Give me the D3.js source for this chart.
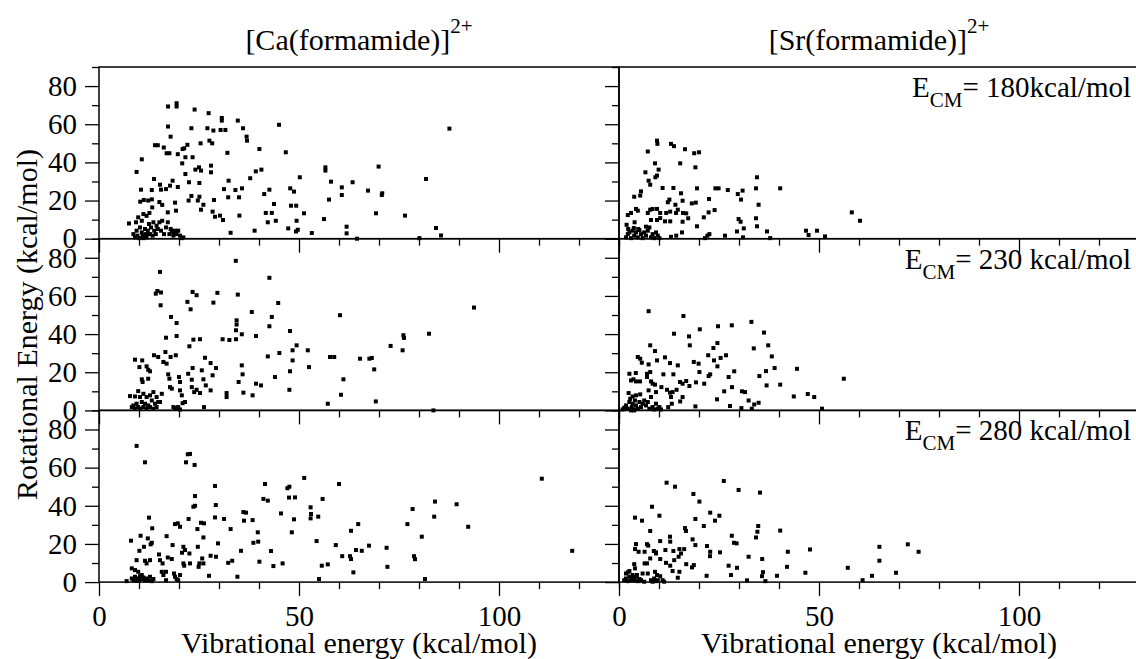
<!DOCTYPE html>
<html>
<head>
<meta charset="utf-8">
<script src="https://cdn.jsdelivr.net/npm/d3@7"></script>
<style>
  body { margin: 0; background: #fff; }
  svg text { font-family: 'Liberation Serif', Tinos, 'Times New Roman', Times, 'DejaVu Serif', serif; }
</style>
</head>
<body>
<div id="chart"></div>
<script>
// tick values
const xMajor = [0, 50, 100];
const xMinor = [10, 20, 30, 40, 60, 70, 80, 90, 110, 120, 130];
const yMajor = [0, 20, 40, 60, 80];
const yMinor = [10, 30, 50, 70, 90];

const columns = ['Ca', 'Sr'];
const energies = ['180kcal/mol', '230 kcal/mol', '280 kcal/mol'];

// [vibrational, rotational] in kcal/mol
const caE180 = [
  [7.5,8],[9.4,35],[10.7,41.6],[10.5,25.7],[10.3,19.4],[11.2,20.3],[11.9,12],[12.3,20],[13.2,20.6],[13.75,31.3],
  [14,49],[14.7,49],[15.1,19.2],[13.2,25.5],[13.3,16.4],[12.6,13.5],[15.25,28.3],[15.5,25.7],[16.2,47.8],[15.8,17.7],
  [16.75,26],[16.9,44.8],[17.25,69.3],[17.25,58.8],[17.6,44.8],[17.9,53.5],[17.2,13.8],[17.75,27.8],[18.4,30.4],[19,18.9],
  [19.25,14.7],[19.4,69.3],[19.4,71],[19.7,44.3],[20.8,39.5],[20.9,47],[21.3,47.4],[21.6,42.7],[21.6,33.9],[19.7,27.1],
  [22.1,49.2],[22.5,29.6],[22.4,20],[23.1,22.4],[23.1,57.9],[23.9,67.7],[23.4,42.7],[24.1,36.2],[25,37.4],[25.1,29.2],
  [25.5,15.2],[24.7,20],[25.1,22],[26.1,17.8],[25.4,50],[25.5,35.7],[27.1,57.9],[27.4,65.8],[28,38.3],[28,34.8],
  [27.6,51.4],[28.3,50],[28.6,56.7],[28.75,20.3],[28.4,14.2],[29,11.5],[30.25,12.1],[30.4,57],[30.7,61.9],[30.7,63.3],
  [31.6,57],[31,9.8],[31.25,26],[32.1,45],[32.4,30.4],[32.3,21.7],[32.9,3.1],[34.1,25.5],[34.7,61.9],[35,21.7],
  [35.1,12.1],[35.75,26.4],[36,57.9],[36.9,53.5],[37,51.4],[37.8,31.7],[38.9,4.2],[39.2,35.3],[40.1,47],[40.6,36.2],
  [41.3,23.4],[41.7,13.5],[42.2,8.6],[42.6,25.7],[43.2,13.5],[43.75,18.2],[44.2,9.4],[45,59.7],[46.7,45.3],[47.3,5.4],
  [47.8,26.4],[48.75,24.7],[48,17.3],[49.3,17.3],[49.4,9.4],[49.25,3.8],[49.7,4.7],[50.2,32.2],[51.25,13.3],[53.2,3],
  [56.25,10.3],[56.6,37.4],[56.6,35.7],[57.5,20.5],[58,29.9],[60.7,22.9],[60.7,26.9],[61.9,6.3],[61.9,2.8],[63.4,29.6],
  [64.5,0],[67.25,25.2],[69.25,13.3],[69.9,37.8],[70.8,23.8],[70.7,22.9],[76.5,12.1],[81.75,31.3],[84.25,5.6],[85.5,1.7],
  [80.1,0.3],[87.6,57.7],
  [8.6,2.4],[9,0.7],[9.4,4.2],[9.6,1.6],[10.1,0.3],[10.25,5.9],[10.7,3.3],[10.9,1.6],[11.1,0.3],[11.5,5.1],
  [11.75,2.4],[11.9,0.7],[12.2,4.2],[12.5,7.7],[12.75,2.4],[13,5.9],[13.4,1.6],[13.6,8.6],[13.8,4.2],[14.2,2.4],
  [14.4,6.8],[14.7,5.1],[15.1,8.6],[15.5,4.2],[15.8,9.4],[16.25,2.4],[16.75,5.9],[17.2,8.6],[17.6,2.4],[17.9,5.1],
  [18.2,4.2],[18.6,3.3],[19,4.2],[19.4,2.4],[19.8,4.2],[20.25,1.6],[20.7,0.3],[21.1,0.7],[18.6,1.6],[9.25,8.6],
  [9.8,11.2],[10.7,9.4],[11.1,12.9]
];

const srE180 = [
  [9.5,51.4],[9.6,49.7],[7.2,45.7],[13,49.7],[13.75,48.5],[16.5,46.9],[18.8,44.8],[20,45.3],[9,39.5],[9.9,36.2],
  [6.6,34.8],[9.5,33.1],[9.1,32.2],[7.4,30.4],[7.8,28.3],[15.3,39.5],[19.1,37.4],[10.9,26.6],[13.6,26.6],[19.5,26.4],
  [24.1,26.4],[24.9,26.4],[27.2,25.5],[29.7,23.4],[30.9,25.2],[34.5,32.2],[34.25,26.4],[34.9,17.8],[30.5,20.5],[40.3,26.4],
  [5.5,24.8],[5.3,22.6],[3.8,22],[12.6,20.5],[12.2,19.1],[15.5,23.8],[15.9,19.9],[14.1,17.8],[18.2,18.5],[19.2,18.9],
  [22.5,20.8],[2.2,12.4],[3,13.5],[4.25,15.6],[4.7,14.7],[7.2,13.5],[7.8,15.2],[8.4,15.6],[9.5,15.6],[10.3,13.5],
  [11.8,13.5],[12.8,14.2],[14.25,13.5],[14.7,15.2],[16,13.5],[16.8,13.3],[22.4,13.8],[23.9,15],[21.2,11.2],[17.3,10.7],
  [15.9,8.9],[19.5,6.5],[29.9,10.3],[30.4,8.9],[31.2,5.4],[34.25,10.7],[34.5,6.5],[37,3.8],[37.8,0.3],[3.9,8.6],
  [1.9,7.3],[8,9.8],[9.5,9.8],[10.3,10.8],[11.5,9.1],[12.8,9.1],[15.75,3.3],[14.3,1.6],[13,1],[22.1,1.6],
  [22.6,2.4],[21.5,0.3],[26.5,1.6],[29.5,3.8],[31,0.7],[46.75,4.2],[47.4,1.9],[49.5,4.2],[51.5,1.2],[58.2,13.8],
  [60.25,9.4],
  [1.75,0.7],[2.2,2.4],[2.6,3.3],[3,0.3],[3.4,4.2],[3.8,1.6],[4.25,3.3],[4.7,0.7],[5.1,4.5],[5.5,2.4],
  [5.9,0.3],[6.3,3.3],[6.75,1.6],[7.2,4.2],[7.6,5.9],[8,0.7],[8.4,2.4],[8.8,0.3],[9.25,3.3],[9.7,1.6],
  [10.1,0.3],[2.3,5.1],[3.7,5.6],[4.8,5.1],[6.75,6.3]
];

const caE230 = [
  [7.75,7.5],[9,7.3],[9,26.6],[10.8,26.2],[10.1,22.7],[10.7,16.3],[10.9,14.9],[9.8,10.1],[11.9,23.1],[12.3,21.3],
  [12.75,20.5],[12.3,16.6],[13.75,28.9],[14.8,28],[14.2,61.2],[14.6,62.6],[15.25,72.6],[15.5,61.8],[15.4,55.1],[16.1,25.4],
  [16.9,24.5],[16.75,38.1],[16.6,30.6],[18,49],[17.9,28],[19.2,28.9],[17.3,18.9],[17.6,16.6],[19.4,45.8],[19.4,39],
  [20,17.5],[20.25,14.9],[20.25,10.5],[20.7,7.9],[20.9,3.8],[21.5,4.4],[22.1,56.9],[22.9,53],[22.6,33.6],[23.4,62.1],
  [24.4,60.4],[23.6,37.1],[23.4,22.2],[22.3,19.2],[23.2,16.1],[23.2,12.2],[23.8,9.6],[24.4,10.8],[25.25,37.3],[26.5,27.6],
  [25.7,21],[26.1,16.3],[25.25,9.1],[26.25,1.7],[26.7,13.1],[27.9,24.8],[28.4,18.4],[27.9,10.5],[28.6,56.5],[29.6,61.6],
  [29.25,22.2],[30.9,37.3],[31.9,9.1],[31.9,7],[32.6,36.9],[34.2,78.4],[34.4,47.2],[34.4,45],[34.25,42],[34.25,37.3],
  [34.7,60.7],[34.9,14.9],[35.7,39.9],[35.7,23.6],[35.9,18.9],[36.1,9.3],[38.2,51.6],[38.4,7.9],[39.25,39],[39.25,14],
  [40.5,13.1],[42.2,28.3],[42.6,69.5],[42.6,44.1],[43.2,49],[44,17.5],[44.8,56.3],[45.1,30.1],[47.75,41.6],[47.75,20.5],
  [47.6,10.8],[48.4,31.5],[48.4,26.2],[49.4,34.1],[52.2,31.5],[52.5,22.7],[57.2,3.5],[57.75,28],[58.8,28],[60.25,49.9],
  [60.5,8.2],[61.1,16.3],[65.25,27.1],[67.6,27.1],[68.2,27.5],[68.8,21.5],[69.2,4.7],[72.9,33.8],[76.1,39.4],[76.25,38],
  [75.9,31.5],[82.5,40.2],[93.75,53.9],[83.6,0],
  [8.2,1.75],[8.6,2.6],[9,0.9],[9.4,3.5],[9.8,1.75],[10.25,0.9],[10.7,4.4],[11.1,1.75],[11.5,3.5],[11.9,0.9],
  [12.3,2.6],[12.75,1.75],[13.2,5.2],[13.6,0.9],[14,3.5],[14.4,1.75],[14.8,4.4],[10.25,7],[11.1,8.7],[11.9,7],
  [12.75,7.9],[13.6,9.6],[14.4,7],[15.25,4.4],[15.7,8.7],[17.75,12.2],[18.2,11.4],[18.6,1.75],[19,1.2],[19.4,0.9],
  [19.8,1.75],[20.25,0.5]
];

const srE230 = [
  [7.4,52],[16.1,49.5],[13.75,40.2],[17.5,38.8],[17.7,34.1],[20.2,42.5],[24.75,44.1],[28.2,44.6],[33.1,46.4],[36.25,40.8],
  [37.3,34.1],[38.2,28.3],[38.9,22.2],[24.6,35.3],[23.6,32.7],[22.3,28.9],[23.75,26.2],[25.4,27.5],[26.75,28.9],[24.6,23.1],
  [27.4,17.5],[28.8,20.5],[28.25,12.2],[26.3,10],[24.5,5.8],[27.75,2.3],[30.75,10],[31.5,9.6],[32.4,5.2],[30.6,1.2],
  [33.2,0.9],[33.8,3.1],[34.9,4],[35.1,18],[36.75,20.6],[36.9,13.1],[33.7,32.5],[40.3,13.5],[7.8,34.1],[9,31.1],
  [4.7,28],[5.3,27.1],[5.7,25],[7.4,24.1],[9.5,26.2],[11.5,27.8],[12.75,24.8],[14.7,23.6],[18.7,25.4],[19.9,24.5],
  [20.1,20.1],[22.4,18],[22.8,18.9],[21.3,14],[19.25,14.7],[17.6,12.8],[16.8,15.4],[15.25,14.9],[15.9,14],[13.6,18.9],
  [11.1,18.9],[7.8,20.1],[7,19.2],[7,17.5],[8,15.2],[2.6,19.2],[4.2,19.6],[3.6,16.3],[3,15.7],[4.25,15.2],
  [5.25,15.2],[8.4,14],[9,13.5],[10.6,12.2],[12,10.8],[12.75,9.3],[13.4,9.6],[14.4,10.8],[7.4,10.5],[9.25,9.6],
  [13,7],[13.2,3.5],[12.3,1.7],[15.3,4.7],[15.9,7],[19.1,2.1],[8,7],[2.4,9.1],[44.5,21.8],[43.7,7.3],
  [47.2,8.6],[48.8,7],[50.75,0.9],[56.2,16.6],
  [0.9,0.5],[1.3,1.4],[1.75,2.6],[2.2,0.9],[2.6,4.4],[2.8,6.1],[3.2,1.75],[3.4,3.5],[3.7,0.5],[4,5.2],
  [4.25,2.6],[4.7,0.9],[5.1,4.4],[5.5,1.75],[5.9,3.5],[6.3,5.2],[6.75,2.6],[7.2,4.4],[7.6,0.9],[8.4,1.75],
  [8.8,0.5],[9.25,3.5],[9.7,0.9],[10.1,1.75],[10.5,0.5],[3.4,7.3],[4.25,7.9],[5.3,8.4],[3,0],[3.8,0]
];

const caE280 = [
  [6.9,0.5],[8,21.7],[9.4,71.4],[11.5,62.8],[12.5,33.8],[13.3,28.2],[10.4,24.3],[11.25,18.5],[12.2,22.9],[13.2,20.6],
  [12.9,19.8],[10.1,16.4],[9.4,11.5],[11.5,11.2],[11.9,9.8],[12.75,11.5],[15,14.5],[15.25,11.5],[15.9,9.8],[16.9,24.1],
  [17.2,12.9],[18.2,12.1],[18.4,19.4],[19,30.4],[19.7,30.8],[20.25,29],[21.1,18.5],[21.5,16.8],[20.75,15.4],[21.75,62.8],
  [22.2,67],[22.75,67.2],[23.9,61.4],[24,45.1],[23.6,39.5],[24,40],[22.4,33.1],[22.6,15],[22.75,9.8],[21.1,9.8],
  [21.3,8.6],[24.7,18.5],[24.6,27.8],[25.5,31.1],[26.25,30.8],[26.1,23.4],[25.8,12.4],[25.1,9.8],[24.9,8],[26.1,9.8],
  [27.5,3.3],[27.9,13.8],[29,50.4],[29.2,40.4],[29,33.9],[29.25,13.3],[29.75,20.3],[31.25,33.1],[32.3,10.1],[32.9,27.8],
  [33.3,11.2],[34.6,2.8],[35.5,16.4],[36.1,36.7],[36.75,36.4],[36.25,32.2],[38.4,32.5],[38.6,20.6],[39.8,21.2],[39.7,26.1],
  [40.1,10.7],[41.1,43.6],[41.5,51.4],[42.2,42.7],[43,16.3],[43.6,8.4],[45.5,36],[45.9,9.8],[47.1,49.2],[47.6,50],
  [47.5,44.3],[48.2,26.1],[48.75,32.9],[49,44.4],[51.3,54.6],[52.9,39.2],[53,35.7],[52.9,33.4],[54.8,34.3],[54.4,21.5],
  [55,1.6],[55.7,8.6],[55.9,43.6],[57.2,9.3],[59.2,19.4],[60,51.4],[60.8,13.6],[62.75,13.6],[63,12.1],[63,26.9],
  [63.6,5.1],[64.25,16.8],[64.8,30.4],[65.7,16.4],[67.5,19.1],[71.9,18],[72.1,8],[77.1,30.4],[78.4,38.3],[78.75,13.6],
  [79,12],[80.7,23.8],[81.5,1.6],[83.8,34.3],[84,42.2],[89.4,40.8],[92.3,29],[110.7,54.2],[118.3,16.4],
  [8.2,1.9],[8.6,1],[9,2.8],[9.4,0.7],[9.7,1.9],[10.1,1],[10.25,3.1],[10.7,1.6],[11.1,2.4],[11.5,1],
  [11.9,1.9],[12.3,1],[12.75,2.8],[13.2,0.5],[13.6,1.6],[9,6.3],[9.8,5.4],[10.7,3.7],[8.2,7.2],[15.7,5.4],
  [16.1,3.7],[16.75,1],[18.75,4.5],[19,2.8],[19.4,1.6],[19.8,1],[20.25,3.7],[16.75,5.4]
];

const srE280 = [
  [11.9,52.1],[14,50],[18.6,46.2],[20.1,42.2],[26.2,53],[29.9,48.3],[35.25,46.9],[8.25,39.5],[10.1,34.8],[4,33.8],
  [5.75,32.2],[7.8,26.8],[19.1,33.1],[21.2,29.4],[22.8,36.4],[24,32.2],[25.1,34.8],[16.5,28.3],[16.75,26.8],[18.4,22.4],
  [19.1,19.4],[12.75,23.8],[10.3,21.5],[12.8,21.2],[4.25,19.9],[4,17.3],[4.9,15.9],[6.4,15.9],[7,19.9],[7.3,19.1],
  [8.7,16.3],[9.25,15.6],[11.6,16.8],[13.6,16.3],[15.1,17.3],[15.5,15],[14.9,13.3],[13.8,11.5],[16.3,17.3],[22,18.9],
  [22.8,15.9],[22.75,13.6],[25.25,15.6],[28.2,24.3],[28.75,20.6],[29.4,20.3],[34.25,23.4],[34.6,26.4],[34.8,29.4],[32.4,13.3],
  [35.8,12.1],[27.4,8.6],[29.5,7.5],[28,3.7],[32,0.9],[35.75,3.1],[36,5.2],[36.6,0.5],[39.5,3.3],[40.3,27],
  [21.9,3.3],[18.7,8.9],[18.25,7.7],[16.8,9.4],[14.7,2.3],[15.1,5.4],[13.4,5.8],[12.8,8.6],[11.75,10.1],[10.3,12.1],
  [9.25,15],[6.4,9.8],[7,9.8],[7.8,12.4],[3.8,9.4],[4,7.2],[2.2,5.1],[1.75,4.5],[2.6,5.8],[5.9,4.5],
  [7.2,4.5],[9,5.4],[9.5,3.7],[10.3,3.1],[42.2,15.9],[42,8],[46.6,4.9],[47.75,17.1],[57.2,7.5],[60.9,1],
  [63.25,3.3],[65.1,18.5],[65.1,11.2],[69.25,4.9],[72.2,19.8],[74.9,15.9],
  [1.3,1],[1.75,1.9],[2.2,0.5],[2.6,2.8],[3,1],[3.4,1.9],[3.8,1],[4.25,2.8],[4.7,0.5],[5.1,1.6],
  [5.5,1],[6.3,0.2],[8,1],[8.4,0.2],[8.8,1.9],[9.25,0.5],[9.7,1],[10.9,1],[11.3,0.2],[3.4,3.7],[4.5,3.7]
];

const panelData = [
  [caE180, srE180],
  [caE230, srE230],
  [caE280, srE280]
];

const width = 1136, height = 659;
const margin = { top: 67, left: 99 };
const panelW = 520, panelH = 171.7;

const svg = d3.select('#chart').append('svg')
  .attr('width', width)
  .attr('height', height);

const x = d3.scaleLinear().domain([0, 130]).range([0, panelW]);
const y = d3.scaleLinear().domain([0, 90]).range([panelH, 0]);

panelData.forEach((row, r) => {
  row.forEach((points, c) => {
    const g = svg.append('g')
      .attr('transform', `translate(${margin.left + c * panelW},${margin.top + r * panelH})`);

    // x axis: minor + major ticks, outward
    g.append('g')
      .attr('transform', `translate(0,${panelH})`)
      .call(d3.axisBottom(x).tickValues(xMinor).tickSize(7).tickFormat(''));
    g.append('g')
      .attr('transform', `translate(0,${panelH})`)
      .call(d3.axisBottom(x).tickValues(xMajor).tickSize(14).tickPadding(9)
        .tickFormat(r === 2 ? d3.format('d') : ''));

    // y axis
    g.append('g')
      .call(d3.axisLeft(y).tickValues(yMinor).tickSize(7).tickFormat(''));
    g.append('g')
      .call(d3.axisLeft(y).tickValues(yMajor).tickSize(14).tickPadding(8)
        .tickFormat(c === 0 ? d3.format('d') : ''));

    g.selectAll('.domain').remove();
    g.selectAll('.tick line').attr('stroke', '#000').attr('stroke-width', 1.3);
    g.selectAll('.tick text')
      .attr('font-family', null)
      .attr('font-size', 29)
      .attr('fill', '#000');
    g.selectAll('.tick').each(function() { d3.select(this.parentNode).attr('font-family', null); });

    // frame
    g.append('rect')
      .attr('width', panelW)
      .attr('height', panelH)
      .attr('fill', 'none')
      .attr('stroke', '#000')
      .attr('stroke-width', 1.5);

    g.selectAll('rect.pt')
      .data(points)
      .join('rect')
      .attr('class', 'pt')
      .attr('x', d => x(d[0]) - 2)
      .attr('y', d => y(d[1]) - 2)
      .attr('width', 4)
      .attr('height', 4)
      .attr('fill', '#000');

    // E_CM label on right column
    if (c === 1) {
      const t = g.append('text')
        .attr('x', panelW - 8)
        .attr('y', 30)
        .attr('text-anchor', 'end')
        .attr('font-size', 29);
      t.append('tspan').text('E');
      t.append('tspan').attr('dy', 10).attr('font-size', 21).text('CM');
      t.append('tspan').attr('dy', -10).text('= ' + energies[r]);
    }
  });
});

// column titles and x titles
columns.forEach((el, c) => {
  const t = svg.append('text')
    .attr('x', margin.left + c * panelW + panelW / 2)
    .attr('y', 50)
    .attr('text-anchor', 'middle')
    .attr('font-size', 30);
  t.append('tspan').text(`[${el}(formamide)]`);
  t.append('tspan').attr('dy', -17).attr('font-size', 21).text('2+');

  svg.append('text')
    .attr('x', margin.left + c * panelW + panelW / 2)
    .attr('y', 653)
    .attr('text-anchor', 'middle')
    .attr('font-size', 30)
    .text('Vibrational energy (kcal/mol)');
});

svg.append('text')
  .attr('transform', `translate(37,${margin.top + 1.5 * panelH}) rotate(-90)`)
  .attr('text-anchor', 'middle')
  .attr('font-size', 30)
  .text('Rotational Energy (kcal/mol)');
</script>
</body>
</html>
